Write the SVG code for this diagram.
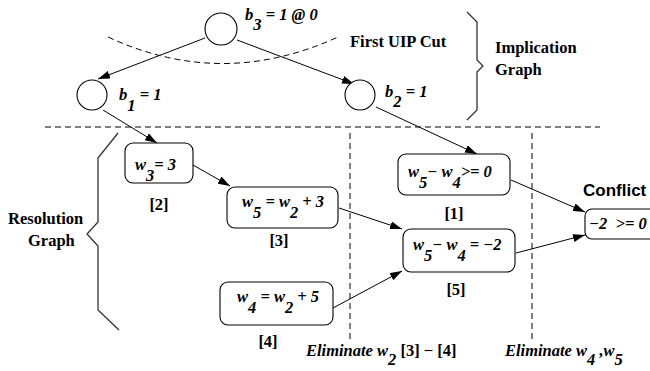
<svg xmlns="http://www.w3.org/2000/svg" width="650" height="371" viewBox="0 0 650 371">
  <style>
    .lbl { font-family: "Liberation Serif", "Times New Roman", serif; font-weight: bold; font-style: normal; font-size: 16.5px; fill: #000; }
    .math { font-family: "Liberation Serif", "Times New Roman", serif; font-weight: bold; font-style: italic; font-size: 16.5px; fill: #000; }
    .sans { font-family: "Liberation Sans", Arial, sans-serif; font-weight: bold; font-size: 17px; fill: #000; }
    .node { fill: #fff; stroke: #000; stroke-width: 1.1; }
    .edge { fill: none; stroke: #000; stroke-width: 1; marker-end: url(#arrow); }
    .dash { fill: none; stroke: #000; stroke-width: 1; stroke-dasharray: 6 4; }
    .brace { fill: none; stroke: #333; stroke-width: 1.3; }
  </style>
  <defs>
    <marker id="arrow" markerUnits="userSpaceOnUse" markerWidth="12" markerHeight="8" refX="12" refY="4" orient="auto">
      <path d="M0,0 L12,4 L0,8 z" fill="#000"/>
    </marker>
  </defs>
  <rect width="650" height="371" fill="#fff"/>

  <!-- cuts, separators and braces -->
  <g id="guides">
    <path class="dash" d="M108,37 Q222,90 338,37"/>
    <text class="lbl" x="350" y="47">First UIP Cut</text>
    <path class="brace" d="M467,12 L477,22 L477,60 L483,66 L477,72 L477,110 L467,120"/>
    <text class="lbl" x="495" y="53">Implication</text>
    <text class="lbl" x="495" y="75">Graph</text>
    <line class="dash" x1="45" y1="127" x2="600" y2="127"/>
    <line class="dash" x1="350" y1="133" x2="350" y2="340"/>
    <line class="dash" x1="532" y1="133" x2="532" y2="340"/>
    <path class="brace" d="M118,133 L98,158 L98,222 L87,234 L98,246 L98,310 L119,330"/>
    <text class="lbl" x="8" y="224">Resolution</text>
    <text class="lbl" x="28" y="246">Graph</text>
  </g>

  <!-- connectors -->
  <g id="connectors">
    <line class="edge" x1="205" y1="38" x2="98" y2="79"/>
    <line class="edge" x1="237" y1="40" x2="354" y2="84"/>
    <line class="edge" x1="103" y1="110" x2="157" y2="143"/>
    <line class="edge" x1="376" y1="107" x2="477" y2="154"/>
    <line class="edge" x1="193" y1="165" x2="230" y2="186"/>
    <line class="edge" x1="339" y1="208" x2="402" y2="229"/>
    <line class="edge" x1="333" y1="308" x2="402" y2="271"/>
    <line class="edge" x1="511" y1="180" x2="585" y2="212"/>
    <line class="edge" x1="516" y1="253" x2="585" y2="235"/>
  </g>

  <!-- implication graph nodes -->
  <g id="b3">
    <circle class="node" cx="221" cy="29" r="16"/>
    <text class="math" x="245" y="20">b<tspan dy="10">3</tspan><tspan dy="-10"> = 1 @ 0</tspan></text>
  </g>
  <g id="b1">
    <circle class="node" cx="92" cy="95" r="15"/>
    <text class="math" x="119" y="100">b<tspan dy="11">1</tspan><tspan dy="-11"> = 1</tspan></text>
  </g>
  <g id="b2">
    <circle class="node" cx="360" cy="95" r="15"/>
    <text class="math" x="385" y="97">b<tspan dy="10">2</tspan><tspan dy="-10"> = 1</tspan></text>
  </g>

  <!-- resolution graph nodes -->
  <g id="c2">
    <rect class="node" x="125" y="143" width="68" height="40" rx="8"/>
    <text class="math" x="135" y="170">w<tspan dy="11">3</tspan><tspan dy="-11">= 3</tspan></text>
    <text class="lbl" x="159" y="210" text-anchor="middle">[2]</text>
  </g>
  <g id="c3">
    <rect class="node" x="227" y="187" width="111" height="41" rx="8"/>
    <text class="math" x="242" y="207">w<tspan dy="11">5</tspan><tspan dy="-11"> = w</tspan><tspan dy="11">2</tspan><tspan dy="-11"> + 3</tspan></text>
    <text class="lbl" x="279" y="246" text-anchor="middle">[3]</text>
  </g>
  <g id="c4">
    <rect class="node" x="220" y="282" width="113" height="43" rx="8"/>
    <text class="math" x="237" y="302">w<tspan dy="11">4</tspan><tspan dy="-11"> = w</tspan><tspan dy="11">2</tspan><tspan dy="-11"> + 5</tspan></text>
    <text class="lbl" x="268" y="347" text-anchor="middle">[4]</text>
  </g>
  <g id="c1">
    <rect class="node" x="398" y="154" width="112" height="41" rx="8"/>
    <text class="math" x="408" y="177">w<tspan dy="11">5</tspan><tspan dy="-11">− w</tspan><tspan dy="11">4</tspan><tspan dy="-11">&gt;= 0</tspan></text>
    <text class="lbl" x="454" y="219" text-anchor="middle">[1]</text>
  </g>
  <g id="c5">
    <rect class="node" x="403" y="229" width="112" height="43" rx="8"/>
    <text class="math" x="413" y="250">w<tspan dy="11">5</tspan><tspan dy="-11">− w</tspan><tspan dy="11">4</tspan><tspan dy="-11"> = −2</tspan></text>
    <text class="lbl" x="456" y="295" text-anchor="middle">[5]</text>
  </g>
  <g id="conflict">
    <rect class="node" x="585" y="209" width="75" height="30" rx="7"/>
    <text class="sans" x="583" y="196">Conflict</text>
    <text class="math" x="589" y="229" xml:space="preserve" style="white-space: pre">−2  &gt;= 0</text>
  </g>

  <!-- step annotations -->
  <g id="steps">
    <text class="math" x="306" y="356">Eliminate w<tspan dy="9">2</tspan><tspan dy="-9" class="lbl"> [3] − [4]</tspan></text>
    <text class="math" x="505" y="356">Eliminate w<tspan dy="9">4</tspan><tspan dy="-9"> ,w</tspan><tspan dy="9">5</tspan></text>
  </g>
</svg>
